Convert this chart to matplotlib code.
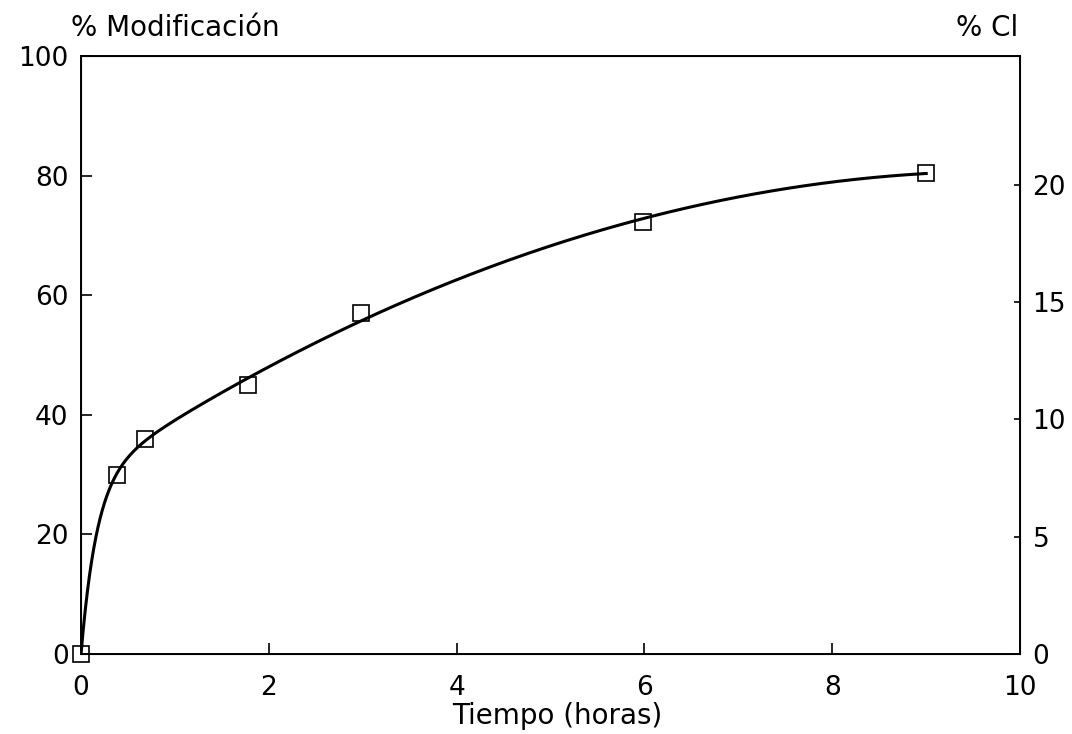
import matplotlib.pyplot as plt
import numpy as np

plt.rcParams['font.family'] = ['DejaVu Sans']

# data
tiempo = [0.0, 0.38, 0.68, 1.78, 2.98, 5.98, 9.0]
modificacion = [0.0, 30.0, 36.0, 45.0, 57.0, 72.2, 80.5]

x_ticks = [0, 2, 4, 6, 8, 10]
y_ticks = [0, 20, 40, 60, 80, 100]
cl_ticks = [0, 5, 10, 15, 20]

# smooth curve: least squares fit through the points
t = np.array(tiempo)
y = np.array(modificacion)
def basis(tt):
    return np.column_stack([1 - np.exp(-6.0 * tt), tt, tt ** 2])
coef, *_ = np.linalg.lstsq(basis(t), y, rcond=None)
t_fit = np.linspace(0, max(tiempo), 400)
y_fit = basis(t_fit) @ coef

fig = plt.figure(figsize=(10.72, 7.34), dpi=100)
ax = fig.add_axes([0.0756, 0.109, 0.876, 0.8148])

ax.plot(t_fit, y_fit, color='black', lw=2.2)
ax.plot(tiempo, modificacion, 's', ms=11, mfc='none', mec='black', mew=1.2,
        clip_on=False, zorder=3)

ax.set_xlim(0, 10)
ax.set_ylim(0, 100)
ax.set_xticks(x_ticks)
ax.set_yticks(y_ticks)
ax.tick_params(direction='in', length=8, width=1.2, labelsize=19)
ax.tick_params(axis='x', pad=15)
ax.tick_params(axis='y', pad=9)
for s in ax.spines.values():
    s.set_linewidth(1.4)

ax2 = ax.twinx()
ax2.set_ylim(0, 25.5)
ax2.set_yticks(cl_ticks)
ax2.tick_params(direction='in', length=4.5, width=1.2, labelsize=19, pad=9)

fig.text(0.066, 0.943, '% Modificación', fontsize=20, ha='left', va='bottom')
fig.text(0.950, 0.943, '% Cl', fontsize=20, ha='right', va='bottom')
fig.text(0.52, 0.005, 'Tiempo (horas)', fontsize=20, ha='center', va='bottom')

plt.savefig('out.png', dpi=100)
